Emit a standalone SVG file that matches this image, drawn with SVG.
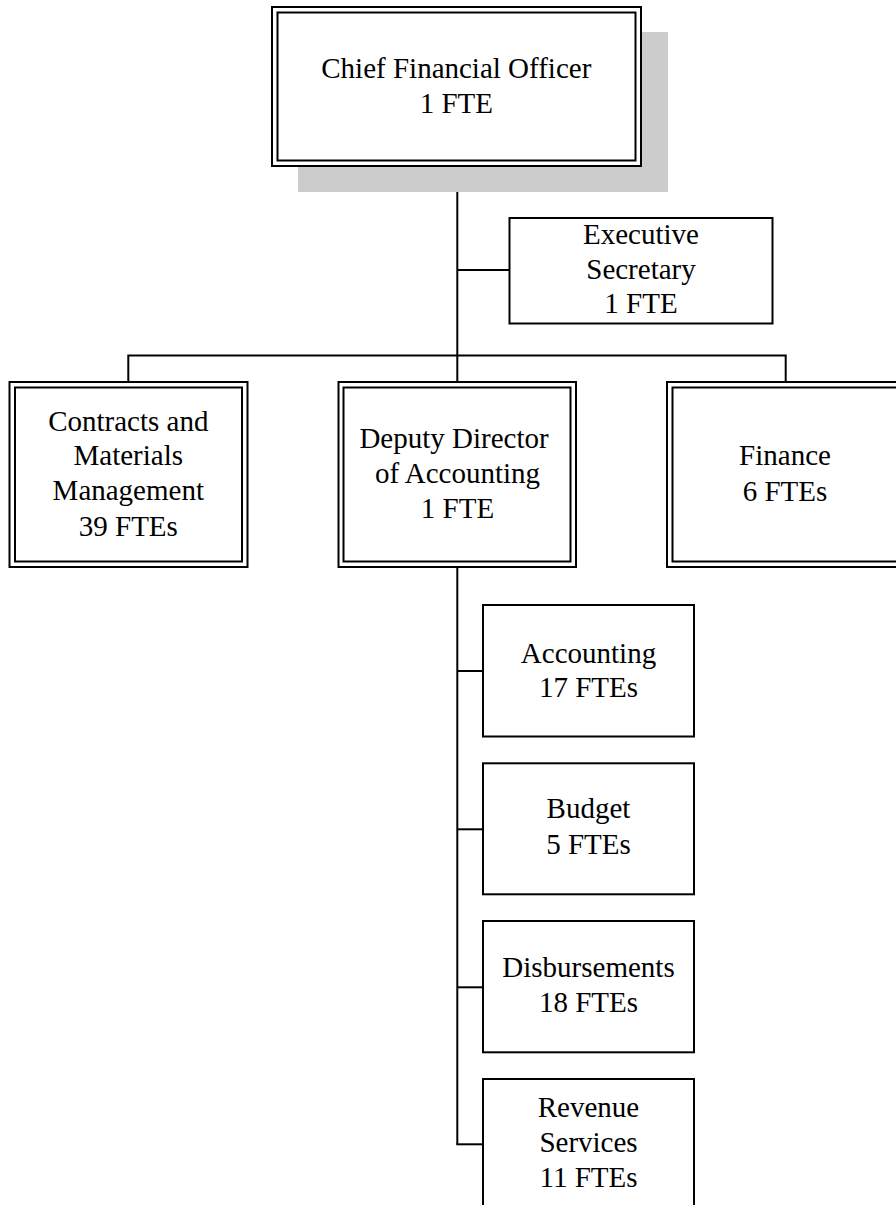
<svg xmlns="http://www.w3.org/2000/svg" width="896" height="1205" viewBox="0 0 896 1205">
<style>
text{font-family:'Liberation Serif','Times New Roman',Tinos,'DejaVu Serif',serif;font-size:29px;fill:#000;text-anchor:middle}
.b{fill:#fff;stroke:#000;stroke-width:2}
.i{fill:none;stroke:#000;stroke-width:2}
.c{fill:none;stroke:#000;stroke-width:2}
</style>
<rect width="896" height="1205" fill="#fff"/>
<g id="connectors">
<line class="c" x1="457.3" y1="166" x2="457.3" y2="382"/>
<line class="c" x1="457.3" y1="270" x2="509.5" y2="270"/>
<polyline class="c" points="128.3,382 128.3,355.5 785.7,355.5 785.7,382"/>
<line class="c" x1="457.3" y1="567" x2="457.3" y2="1144.3"/>
<line class="c" x1="457.3" y1="671" x2="483" y2="671"/>
<line class="c" x1="457.3" y1="829.3" x2="483" y2="829.3"/>
<line class="c" x1="457.3" y1="987.3" x2="483" y2="987.3"/>
<line class="c" x1="456.3" y1="1144.3" x2="483" y2="1144.3"/>
</g>
<g id="cfo">
<rect x="298" y="32" width="370" height="160" fill="#cccccc"/>
<rect class="b" x="272" y="7" width="369" height="159"/>
<rect class="i" x="277.5" y="12.5" width="358" height="148"/>
<text x="456.3" y="78" font-family="Liberation Serif">Chief Financial Officer</text>
<text x="456.3" y="113">1 FTE</text>
</g>
<g id="exec-secretary">
<rect class="b" x="509.5" y="218" width="263" height="105.5"/>
<text x="641" y="244">Executive</text>
<text x="641" y="278.5">Secretary</text>
<text x="641" y="313">1 FTE</text>
</g>
<g id="contracts">
<rect class="b" x="9.5" y="382" width="238" height="185"/>
<rect class="i" x="15" y="387.5" width="227" height="174"/>
<text x="128.3" y="430.7">Contracts and</text>
<text x="128.3" y="465">Materials</text>
<text x="128.3" y="500">Management</text>
<text x="128.3" y="535.7">39 FTEs</text>
</g>
<g id="deputy">
<rect class="b" x="338.5" y="382" width="237.5" height="185"/>
<rect class="i" x="343.5" y="387.5" width="227" height="174"/>
<text x="454" y="448.3">Deputy Director</text>
<text x="457.5" y="483.3">of Accounting</text>
<text x="457.5" y="518.3">1 FTE</text>
</g>
<g id="finance">
<rect class="b" x="667" y="382" width="236" height="185"/>
<rect class="i" x="672.5" y="387.5" width="225" height="174"/>
<text x="785" y="465">Finance</text>
<text x="785" y="501">6 FTEs</text>
</g>
<g id="accounting">
<rect class="b" x="483" y="605" width="211" height="131.5"/>
<text x="588.5" y="662.7">Accounting</text>
<text x="588.5" y="697.3">17 FTEs</text>
</g>
<g id="budget">
<rect class="b" x="483" y="763.3" width="211" height="131"/>
<text x="588.5" y="818.3">Budget</text>
<text x="588.5" y="854.3">5 FTEs</text>
</g>
<g id="disbursements">
<rect class="b" x="483" y="921" width="211" height="131.3"/>
<text x="588.5" y="976.7">Disbursements</text>
<text x="588.5" y="1011.7">18 FTEs</text>
</g>
<g id="revenue">
<rect class="b" x="483" y="1079" width="211" height="140"/>
<text x="588.5" y="1117.3">Revenue</text>
<text x="588.5" y="1152.3">Services</text>
<text x="588.5" y="1186.7">11 FTEs</text>
</g>
</svg>
